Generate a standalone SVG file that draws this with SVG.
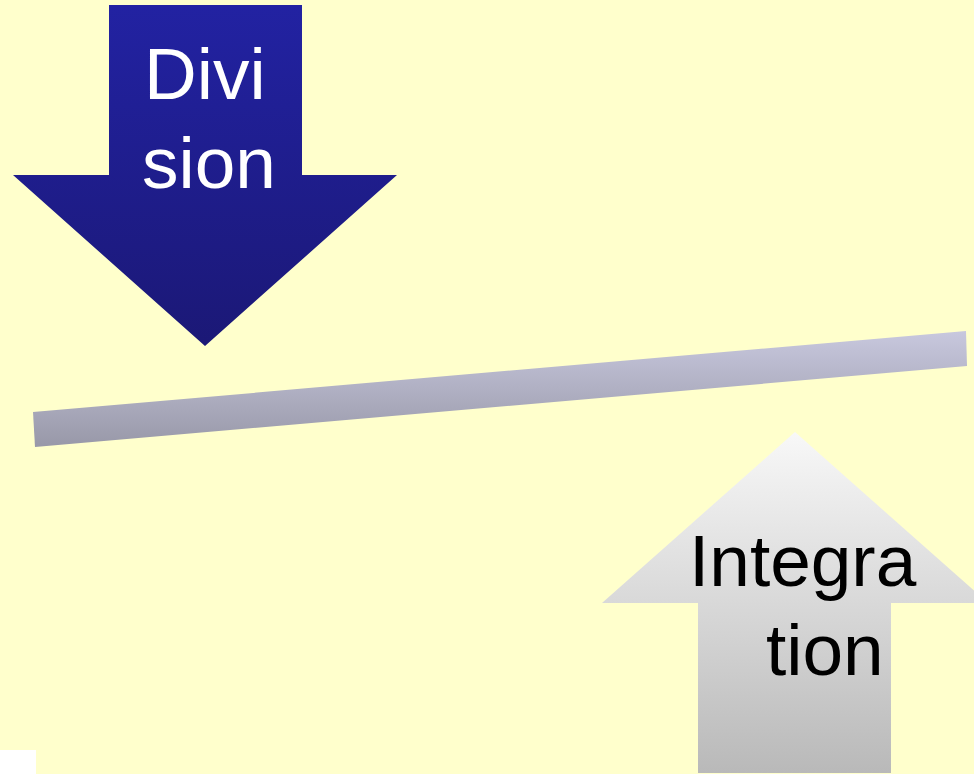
<svg xmlns="http://www.w3.org/2000/svg" width="974" height="774" viewBox="0 0 974 774">
<defs>
<linearGradient id="gDiv" x1="0" y1="0" x2="0" y2="1"><stop offset="0" stop-color="#2222a2"/><stop offset="1" stop-color="#1b1876"/></linearGradient>
<linearGradient id="gInt" x1="0" y1="0" x2="0" y2="1"><stop offset="0" stop-color="#f8f8f8"/><stop offset="1" stop-color="#b9b9b9"/></linearGradient>
<linearGradient id="gBar" x1="0" y1="0" x2="0" y2="1"><stop offset="0" stop-color="#c8c8de"/><stop offset="1" stop-color="#9898a8"/></linearGradient>
<style>
.lbl{font-family:"Liberation Sans",Arial,sans-serif;font-size:73px}
</style>
</defs>
<rect width="974" height="774" fill="#ffffcc"/>
<rect x="0" y="750" width="36" height="24" fill="#ffffff"/>
<g id="bar">
<polygon points="33,412 966,331 967,366 35,447" fill="url(#gBar)"/>
</g>
<g id="division">
<polygon points="109,5 302,5 302,175 397,175 205,346 13,175 109,175" fill="url(#gDiv)"/>
<text class="lbl" fill="#ffffff" x="144" y="99">Divi</text>
<text class="lbl" fill="#ffffff" x="142" y="188">sion</text>
</g>
<g id="integration">
<polygon points="795,432 988,603 891,603 891,773 698,773 698,603 602,603" fill="url(#gInt)"/>
<text class="lbl" fill="#000000" x="689" y="586">Integra</text>
<text class="lbl" fill="#000000" x="766" y="675">tion</text>
</g>
</svg>
